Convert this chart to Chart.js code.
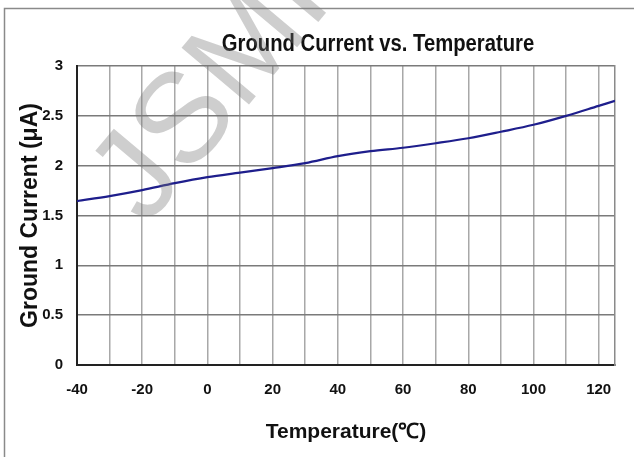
<!DOCTYPE html>
<html>
<head>
<meta charset="utf-8">
<script src="https://cdn.jsdelivr.net/npm/chart.js@4.4.1/dist/chart.umd.min.js"></script>
<style>
  html, body { margin: 0; padding: 0; background: #fff; }
  #wrap { width: 634px; height: 457px; position: relative; }
</style>
</head>
<body>
<div id="wrap"><canvas id="c" width="634" height="457"></canvas></div>
<script>
// ---- data ----
const temperatures = [-40, -30, -20, -10, 0, 10, 20, 30, 40, 50, 60, 70, 80, 90, 100, 110, 120, 125];
const groundCurrent = [1.645, 1.695, 1.755, 1.825, 1.885, 1.93, 1.975, 2.025, 2.095, 2.145, 2.18, 2.225, 2.275, 2.34, 2.41, 2.50, 2.60, 2.65];
const xTickLabels = ['-40', '', '-20', '', '0', '', '20', '', '40', '', '60', '', '80', '', '100', '', '120'];
const yTickLabels = ['0', '0.5', '1', '1.5', '2', '2.5', '3'];
const chartTitle = 'Ground Current vs. Temperature';
const xTitle = 'Temperature(℃)';
const yTitle = 'Ground Current (μA)';
const watermark = 'JSMI';

const FONT = "'Liberation Sans', Arial, sans-serif";

const framePlugin = {
  id: 'frame',
  beforeDraw(chart) {
    const ctx = chart.ctx;
    ctx.save();
    ctx.fillStyle = '#fff';
    ctx.fillRect(0, 0, chart.width, chart.height);
    ctx.strokeStyle = '#8a8a8a';
    ctx.lineWidth = 1.5;
    ctx.strokeRect(4.5, 8.5, 800, 600);
    // title (slightly condensed, like the reference)
    ctx.fillStyle = '#111';
    ctx.font = 'bold 23px ' + FONT;
    ctx.textAlign = 'center';
    ctx.textBaseline = 'alphabetic';
    ctx.translate(378, 51);
    ctx.scale(0.88, 1);
    ctx.fillText(chartTitle, 0, 0);
    ctx.restore();
  },
  afterDraw(chart) {
    const ctx = chart.ctx;
    ctx.save();
    ctx.translate(200, 108);
    ctx.rotate(-50 * Math.PI / 180);
    ctx.fillStyle = 'rgba(120,120,120,0.36)';
    ctx.font = '128px ' + FONT;
    ctx.textAlign = 'center';
    ctx.textBaseline = 'middle';
    ctx.fillText(watermark, 20, 0);
    ctx.restore();
  }
};

new Chart(document.getElementById('c'), {
  type: 'line',
  data: {
    datasets: [{
      data: temperatures.map((t, i) => ({ x: t, y: groundCurrent[i] })),
      borderColor: '#1e1e8c',
      borderWidth: 2.2,
      pointRadius: 0,
      tension: 0.4,
      cubicInterpolationMode: 'monotone',
      fill: false
    }]
  },
  options: {
    responsive: false,
    animation: false,
    devicePixelRatio: 1,
    layout: { padding: { top: 66, left: 0, right: 0, bottom: 0 } },
    plugins: { legend: { display: false }, tooltip: { enabled: false }, title: { display: false } },
    scales: {
      x: {
        type: 'linear',
        min: -40, max: 125,
        afterBuildTicks(scale) {
          scale.ticks = temperatures.slice(0, 17).map(v => ({ value: v }));
        },
        afterFit(scale) { scale.height = 92; },
        grid: { color: '#a8a8a8', lineWidth: 1.5, drawTicks: false },
        border: { display: true, color: '#222', width: 2 },
        ticks: {
          autoSkip: false, maxRotation: 0, padding: 16,
          color: '#111',
          font: { family: FONT, size: 15, weight: 'bold' },
          callback: (v, i) => xTickLabels[i]
        },
        title: {
          display: true, text: xTitle, color: '#111',
          font: { family: FONT, size: 21, weight: 'bold' },
          padding: { top: 0, bottom: 12 }
        }
      },
      y: {
        min: 0, max: 3,
        afterBuildTicks(scale) {
          scale.ticks = yTickLabels.map((s, i) => ({ value: i * 0.5 }));
        },
        afterFit(scale) { scale.width = 77; },
        grid: { color: '#7a7a7a', lineWidth: 1.5, drawTicks: false },
        border: { display: true, color: '#222', width: 2 },
        ticks: {
          padding: 14, color: '#111',
          font: { family: FONT, size: 15, weight: 'bold' },
          callback: (v, i) => yTickLabels[i]
        },
        title: {
          display: true, text: yTitle, color: '#111',
          font: { family: FONT, size: 23, weight: 'bold' },
          padding: { top: 17, bottom: 0 }
        }
      },
      y2: {
        position: 'right',
        min: 0, max: 3,
        afterFit(scale) { scale.width = 19; },
        grid: { display: false },
        border: { display: true, color: '#8a8a8a', width: 1.5 },
        ticks: { display: false }
      }
    }
  },
  plugins: [framePlugin]
});
</script>
</body>
</html>
